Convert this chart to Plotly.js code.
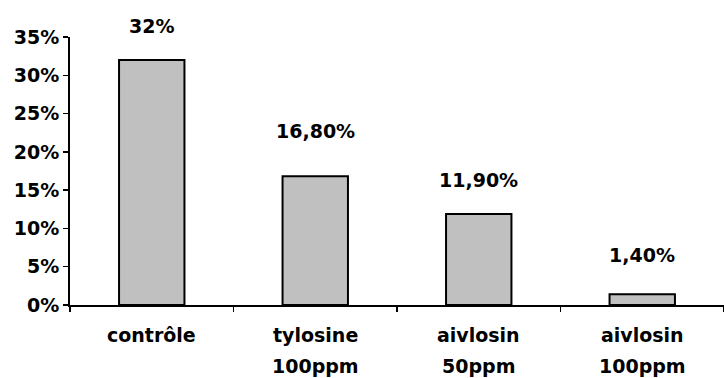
<!DOCTYPE html>
<html>
<head>
<meta charset="utf-8">
<script src="https://cdn.plot.ly/plotly-3.0.1.min.js"></script>
<style>html,body{margin:0;padding:0;background:#fff;}#chart{width:724px;height:378px;}</style>
</head>
<body>
<div id="chart"></div>
<script>
var categories = ["contrôle", "tylosine 100ppm", "aivlosin 50ppm", "aivlosin 100ppm"];
var labelLine1 = ["contrôle", "tylosine", "aivlosin", "aivlosin"];
var labelLine2 = ["", "100ppm", "50ppm", "100ppm"];
var values = [32, 16.8, 11.9, 1.4];
var valueLabels = ["32%", "16,80%", "11,90%", "1,40%"];
var yTickVals = [0, 5, 10, 15, 20, 25, 30, 35];
var yTickText = ["0%", "5%", "10%", "15%", "20%", "25%", "30%", "35%"];
var labelShift = [34, 45, 34, 39];

var FONT = "DejaVu Sans, Arial, sans-serif";
var fnt = {family: FONT, size: 19, color: "#000", weight: "bold"};

var annotations = [];
for (var i = 0; i < categories.length; i++) {
  annotations.push({x: categories[i], y: values[i], xref: "x", yref: "y",
    text: "<b>" + valueLabels[i] + "</b>", showarrow: false, yanchor: "middle",
    yshift: labelShift[i], font: fnt});
  annotations.push({x: categories[i], y: 0, xref: "x", yref: "y",
    text: "<b>" + labelLine1[i] + "</b>", showarrow: false, yanchor: "middle",
    yshift: -30, font: fnt});
  if (labelLine2[i]) {
    annotations.push({x: categories[i], y: 0, xref: "x", yref: "y",
      text: "<b>" + labelLine2[i] + "</b>", showarrow: false, yanchor: "middle",
      yshift: -61, font: fnt});
  }
}

var trace = {
  type: "bar",
  x: categories,
  y: values,
  marker: {color: "#c0c0c0", line: {color: "#000", width: 2}},
  hoverinfo: "none"
};

var layout = {
  width: 724, height: 378,
  margin: {l: 70, r: 0, t: 37, b: 73, pad: 0},
  paper_bgcolor: "#fff", plot_bgcolor: "#fff",
  showlegend: false,
  bargap: 0.6,
  xaxis: {
    type: "category",
    showticklabels: false,
    ticks: "outside", ticklen: 5, tickwidth: 1.5, tickcolor: "#000",
    tickson: "boundaries",
    showline: true, linecolor: "#000", linewidth: 2,
    showgrid: false, zeroline: false, fixedrange: true
  },
  yaxis: {
    range: [0, 35],
    tickvals: yTickVals, ticktext: yTickText,
    ticks: "outside", ticklen: 5, tickwidth: 1.5, tickcolor: "#000",
    showline: true, linecolor: "#000", linewidth: 2,
    showgrid: false, zeroline: false,
    tickfont: fnt, fixedrange: true
  },
  annotations: annotations
};

Plotly.newPlot("chart", [trace], layout, {displayModeBar: false, staticPlot: true});
</script>
</body>
</html>
